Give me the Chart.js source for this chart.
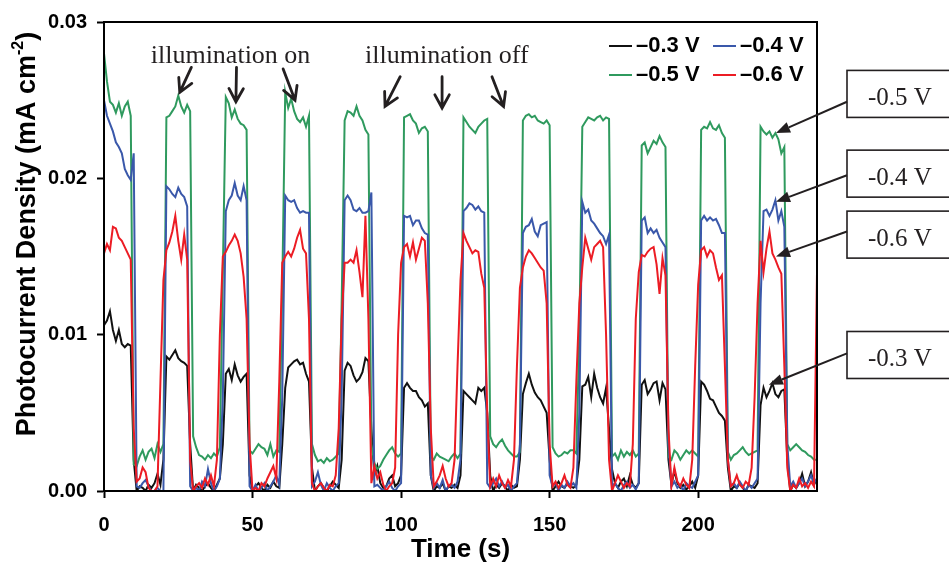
<!DOCTYPE html>
<html>
<head>
<meta charset="utf-8">
<script src="https://cdn.jsdelivr.net/npm/chart.js@4.4.1/dist/chart.umd.min.js"></script>
<style>
  html, body { margin: 0; padding: 0; background: #fff; }
  #wrap { width: 949px; height: 564px; position: relative; }
</style>
</head>
<body>
<div id="wrap"><canvas id="grafico"></canvas></div>
<script>
// tempo (s), uma amostra por segundo
const tempos = [
  0,1,2,3,4,5,6,7,8,9,10,11,12,13,14,15,16,17,18,19,
  20,21,22,23,24,25,26,27,28,29,30,31,32,33,34,35,36,37,38,39,
  40,41,42,43,44,45,46,47,48,49,50,51,52,53,54,55,56,57,58,59,
  60,61,62,63,64,65,66,67,68,69,70,71,72,73,74,75,76,77,78,79,
  80,81,82,83,84,85,86,87,88,89,90,91,92,93,94,95,96,97,98,99,
  100,101,102,103,104,105,106,107,108,109,110,111,112,113,114,115,116,117,118,119,
  120,121,122,123,124,125,126,127,128,129,130,131,132,133,134,135,136,137,138,139,
  140,141,142,143,144,145,146,147,148,149,150,151,152,153,154,155,156,157,158,159,
  160,161,162,163,164,165,166,167,168,169,170,171,172,173,174,175,176,177,178,179,
  180,181,182,183,184,185,186,187,188,189,190,191,192,193,194,195,196,197,198,199,
  200,201,202,203,204,205,206,207,208,209,210,211,212,213,214,215,216,217,218,219,
  220,221,222,223,224,225,226,227,228,229,230,231,232,233,234,235,236,237,238,239,
  240
];

// densidade de fotocorrente (mA cm-2)
const serie_03 = [
  0.0106,0.0109,0.0115,0.0103,0.0096,0.0103,0.0094,0.0092,0.0094,0.0093,
  0.002,0,0.0003,0.0002,0,0.0004,0.0002,0.0005,0.0011,0.0004,
  0.002,0.0086,0.0084,0.0087,0.009,0.0085,0.0083,0.0082,0.008,0.003,
  0,0.0004,0.0002,0,0.0003,0.0005,0.0002,0,0.0004,0.0008,
  0.003,0.0075,0.0078,0.0071,0.0081,0.0074,0.007,0.0073,0.0075,0.001,
  0,0.0003,0.0005,0.0002,0,0.0004,0.0002,0.0006,0.0003,0.0002,
  0.003,0.0066,0.0079,0.0081,0.0083,0.0084,0.0081,0.0082,0.0075,0.007,
  0.0015,0,0.0003,0.0005,0.0002,0,0.0003,0.0006,0.0004,0.0002,
  0.002,0.0077,0.0082,0.008,0.0074,0.007,0.0072,0.0076,0.0085,0.0083,
  0.004,0.001,0.0016,0.0005,0.0002,0.0003,0.0008,0.001,0.0003,0.0005,
  0.001,0.0066,0.0069,0.0066,0.0064,0.0064,0.006,0.0058,0.0054,0.0056,
  0.001,0,0.0003,0.0002,0.0005,0,0.0003,0.0002,0.0004,0.0002,
  0.001,0.0064,0.0062,0.006,0.0058,0.0056,0.0066,0.0064,0.0066,0.005,
  0.001,0,0.0004,0.0002,0.0005,0.0003,0,0.0004,0.0002,0.0003,
  0.002,0.0062,0.0069,0.0075,0.0068,0.0063,0.006,0.0058,0.0054,0.005,
  0.002,0,0.0003,0.0006,0.0003,0.0002,0.0005,0.0003,0.0002,0.0004,
  0.002,0.0067,0.0068,0.0073,0.006,0.0075,0.0066,0.006,0.0056,0.0066,
  0.004,0.0014,0.0005,0.0002,0.0006,0.0008,0.0003,0.001,0.0004,0.0002,
  0.0005,0.0068,0.0071,0.0062,0.0065,0.0069,0.007,0.0058,0.0069,0.0065,
  0.002,0.0004,0.0013,0.0005,0.0002,0.0004,0.0001,0.0003,0.0006,0.0002,
  0.001,0.007,0.0068,0.0064,0.0059,0.0058,0.0054,0.005,0.0048,0.0045,
  0.0015,0,0.0003,0.0002,0.0005,0.0002,0,0.0004,0.0003,0.0002,
  0.0005,0.0055,0.0066,0.006,0.0064,0.0069,0.0062,0.006,0.0064,0.0065,
  0.002,0,0.0004,0.0002,0.0005,0.0011,0.0003,0.0006,0.0012,0.0004,
  0.0008
];

const serie_04 = [
  0.025,0.024,0.0235,0.023,0.0223,0.022,0.0216,0.0206,0.0202,0.0199,
  0.0216,0.0003,0.0002,0.0005,0.0007,0.0003,0,0,0.0002,0,
  0,0.0195,0.0193,0.019,0.0188,0.0194,0.019,0.0188,0.0182,0.0003,
  0,0.0002,0,0.0006,0.0003,0.0014,0.0005,0,0.0003,0.0008,
  0.006,0.0179,0.0186,0.0189,0.0197,0.0189,0.0186,0.0195,0.0186,0.0003,
  0,0.0004,0,0.0002,0.0005,0,0.0003,0.0006,0.001,0.0004,
  0.006,0.0189,0.0186,0.0185,0.0186,0.0181,0.0178,0.0179,0.0178,0.0178,
  0.0003,0.0006,0.0012,0.0004,0,0.0005,0.0002,0,0.0003,0.0005,
  0.006,0.0186,0.0189,0.0186,0.018,0.0179,0.0181,0.0178,0.0178,0.0179,
  0.0191,0.0003,0.0004,0.0002,0,0.0003,0.0006,0.0002,0,0.0003,
  0.0005,0.0176,0.0175,0.0176,0.017,0.0173,0.0173,0.0168,0.0165,0.0164,
  0.001,0.0002,0.0005,0.0002,0.0007,0,0.0003,0.0004,0.0002,0.0006,
  0.002,0.0179,0.0181,0.0184,0.0183,0.018,0.0182,0.0179,0.0178,0.0005,
  0.0002,0.0005,0.0008,0.0003,0.0006,0.0002,0.0004,0,0.0003,0.0005,
  0.003,0.0165,0.0169,0.017,0.0174,0.0166,0.0163,0.017,0.0171,0.0172,
  0.001,0.0003,0.0005,0,0.0004,0.0002,0.0006,0.0003,0.0005,0.0002,
  0.005,0.0185,0.0178,0.018,0.0173,0.0171,0.0168,0.0165,0.0163,0.0158,
  0.0164,0.0003,0.0005,0.0002,0,0.0004,0.0006,0.0002,0.0004,0.0001,
  0.0005,0.0173,0.0175,0.0165,0.0168,0.0165,0.0167,0.0162,0.0159,0.0156,
  0.003,0.0003,0.0006,0.0002,0.0004,0,0.0005,0.0003,0.0002,0.0006,
  0.001,0.0173,0.0176,0.0173,0.0175,0.0173,0.0174,0.017,0.0165,0.0165,
  0.002,0.0003,0.0005,0.0002,0.0006,0.0003,0,0.0004,0.0002,0.0005,
  0.0008,0.012,0.0179,0.018,0.0176,0.018,0.0186,0.0173,0.0179,0.0169,
  0.003,0.0003,0.0006,0.0002,0.0005,0.0008,0.0003,0.0006,0.001,0.0005,
  0.0008
];

const serie_05 = [
  0.028,0.0262,0.0249,0.0247,0.0242,0.0248,0.024,0.0246,0.0249,0.024,
  0.0017,0.0016,0.0022,0.0026,0.002,0.0025,0.0027,0.0021,0.003,0.0025,
  0.003,0.0239,0.024,0.0243,0.0246,0.0253,0.0246,0.0242,0.0247,0.0243,
  0.0035,0.0028,0.0023,0.0022,0.002,0.0023,0.0021,0.0024,0.0022,0.0028,
  0.014,0.0252,0.0248,0.0239,0.0244,0.0238,0.0235,0.0234,0.0231,0.0026,
  0.0024,0.0027,0.003,0.0028,0.0027,0.0023,0.003,0.0022,0.0026,0.0025,
  0.013,0.0255,0.0245,0.0251,0.0243,0.0238,0.0236,0.0239,0.0233,0.024,
  0.003,0.0023,0.0019,0.002,0.0018,0.0021,0.0019,0.002,0.0022,0.0024,
  0.012,0.0237,0.0243,0.0242,0.024,0.0246,0.024,0.0237,0.0231,0.0228,
  0.003,0.0018,0.0014,0.0016,0.002,0.0023,0.0026,0.0028,0.0024,0.0022,
  0.0024,0.0239,0.024,0.0241,0.0237,0.0235,0.0229,0.0232,0.0233,0.023,
  0.0022,0.002,0.0024,0.0022,0.0021,0.002,0.0019,0.0022,0.0024,0.0021,
  0.0024,0.0239,0.0236,0.0233,0.0231,0.0229,0.0233,0.0235,0.0237,0.0238,
  0.0035,0.003,0.0028,0.0031,0.0033,0.0029,0.0026,0.0024,0.0022,0.0022,
  0.0025,0.0237,0.024,0.0241,0.0239,0.024,0.0237,0.0236,0.0235,0.0237,
  0.0234,0.0028,0.0024,0.0022,0.0023,0.0025,0.0024,0.0026,0.0026,0.0024,
  0.01,0.0233,0.0236,0.0239,0.0238,0.0237,0.0239,0.024,0.0237,0.0239,
  0.0238,0.0022,0.0024,0.002,0.0026,0.0022,0.0025,0.0023,0.0026,0.0022,
  0.0024,0.0221,0.0223,0.0216,0.022,0.0224,0.0222,0.0227,0.0223,0.022,
  0.0022,0.002,0.0026,0.0024,0.002,0.0023,0.0026,0.0024,0.0026,0.0024,
  0.0022,0.0231,0.0233,0.0232,0.0236,0.0232,0.0231,0.0234,0.0229,0.0226,
  0.0025,0.002,0.0023,0.0024,0.0026,0.0028,0.0025,0.0023,0.0024,0.0025,
  0.0026,0.0233,0.023,0.0228,0.023,0.0226,0.0229,0.0225,0.0216,0.022,
  0.003,0.0026,0.0028,0.003,0.0028,0.0026,0.0025,0.0023,0.0022,0.002,
  0.002
];

const serie_06 = [
  0.0152,0.0158,0.0154,0.0169,0.0168,0.0162,0.016,0.0156,0.0152,0.0148,
  0.004,0.0006,0.0008,0.0015,0.0012,0.0002,0,0,0.0003,0.007,
  0.0135,0.0154,0.0159,0.0166,0.0176,0.016,0.0148,0.0164,0.0148,0.002,
  0,0.0003,0.0005,0.0002,0.0008,0.0004,0.001,0.0003,0.002,0.01,
  0.015,0.0153,0.0157,0.016,0.0164,0.016,0.0152,0.0137,0.011,0.003,
  0,0.0002,0,0.0005,0.0003,0.0008,0.0012,0.0016,0.0008,0.007,
  0.0146,0.015,0.0153,0.015,0.0155,0.0162,0.0167,0.0155,0.0152,0.011,
  0.0005,0,0.0003,0.0005,0.0002,0,0.0004,0.0003,0.001,0.004,
  0.011,0.0146,0.0146,0.0148,0.0146,0.0154,0.014,0.0124,0.0176,0.011,
  0.0005,0.0016,0.0008,0.0012,0.0004,0,0.0003,0.0005,0.0015,0.01,
  0.0146,0.0156,0.0158,0.015,0.0159,0.0148,0.0155,0.0162,0.016,0.012,
  0.004,0.0003,0.0006,0.001,0.0016,0.0008,0.0003,0.0005,0.002,0.008,
  0.0135,0.0165,0.016,0.0156,0.0152,0.0154,0.0153,0.0139,0.013,0.005,
  0.0003,0.0008,0.0003,0.001,0.0005,0.0002,0.0007,0.0003,0.002,0.008,
  0.013,0.0143,0.015,0.0154,0.0152,0.0149,0.0146,0.0143,0.0141,0.012,
  0.003,0.0003,0.0006,0.0002,0.0005,0.001,0.0004,0.0002,0.0015,0.007,
  0.012,0.0143,0.0162,0.0155,0.0148,0.0156,0.0158,0.016,0.0156,0.01,
  0.002,0,0.0005,0.001,0.0006,0.0002,0.0005,0.0003,0.003,0.011,
  0.014,0.0151,0.015,0.0153,0.0155,0.0156,0.0145,0.0126,0.0149,0.0138,
  0.004,0.0003,0.0015,0.0006,0.0003,0.0008,0.0004,0.0002,0.002,0.008,
  0.0132,0.0154,0.0156,0.015,0.0154,0.0152,0.0143,0.0135,0.0138,0.008,
  0.002,0.0003,0.0005,0.001,0.0004,0.0002,0.0006,0.0004,0.0015,0.006,
  0.012,0.016,0.014,0.0155,0.0166,0.0152,0.0148,0.0143,0.0139,0.008,
  0.0015,0,0.0004,0.0002,0.0008,0.0003,0.0005,0.0002,0.0006,0.0003,
  0.014
];

const rotulos = ['\u20130.3 V', '\u20130.4 V', '\u20130.5 V', '\u20130.6 V'];
const cores = ['#111111', '#3a58aa', '#2f9a5e', '#ec1c24'];

const ticks_x = [0, 50, 100, 150, 200];
const ticks_y = [0, 0.01, 0.02, 0.03];

// caixas da direita: texto, centro da caixa, ponta da seta (tempo, valor)
const caixas_texto = ['-0.5 V', '-0.4 V', '-0.6 V', '-0.3 V'];
const caixas_centro = [0.0254, 0.0203, 0.0164, 0.0087];
const caixas_cauda = [0.0249, 0.0202, 0.0166, 0.0088];
const setas_t = [226.2, 226.2, 226.2, 223.8];
const setas_v = [0.0229, 0.0185, 0.0150, 0.0068];

// setas de "illumination on/off": [t cauda, v cauda, t ponta, v ponta]
const setas_on = [[29.4, 0.0271, 25.5, 0.0255], [44.6, 0.0271, 44.4, 0.0249], [60.3, 0.027, 64.3, 0.025]];
const setas_off = [[99.7, 0.0265, 94.6, 0.0246], [113.8, 0.0265, 113.8, 0.0245], [130.6, 0.0265, 134.5, 0.0246]];

const fonte_sans = '"Liberation Sans", Arial, sans-serif';
const fonte_serif = '"Liberation Serif", "Times New Roman", serif';

function serie(nome, valores, cor, ordem) {
  return {
    label: nome,
    data: tempos.map((t, i) => ({ x: t, y: valores[i] })),
    borderColor: cor,
    backgroundColor: cor,
    borderWidth: 2,
    pointRadius: 0,
    tension: 0,
    fill: false,
    order: ordem
  };
}

function seta_aberta(ctx, x1, y1, x2, y2) {
  const ang = Math.atan2(y2 - y1, x2 - x1);
  const tam = 15;
  ctx.beginPath();
  ctx.moveTo(x1, y1);
  ctx.lineTo(x2, y2);
  ctx.moveTo(x2 - tam * Math.cos(ang - 0.5), y2 - tam * Math.sin(ang - 0.5));
  ctx.lineTo(x2, y2);
  ctx.lineTo(x2 - tam * Math.cos(ang + 0.5), y2 - tam * Math.sin(ang + 0.5));
  ctx.stroke();
}

function seta_cheia(ctx, x1, y1, x2, y2) {
  const ang = Math.atan2(y2 - y1, x2 - x1);
  const tam = 14;
  const bx = x2 - tam * Math.cos(ang), by = y2 - tam * Math.sin(ang);
  ctx.beginPath();
  ctx.moveTo(x1, y1);
  ctx.lineTo(bx, by);
  ctx.stroke();
  ctx.beginPath();
  ctx.moveTo(x2, y2);
  ctx.lineTo(bx + 5.5 * Math.sin(ang), by - 5.5 * Math.cos(ang));
  ctx.lineTo(bx - 5.5 * Math.sin(ang), by + 5.5 * Math.cos(ang));
  ctx.closePath();
  ctx.fill();
}

const plugin_notas = {
  id: 'notas',
  afterDraw: (chart) => {
    const { ctx, chartArea } = chart;
    const sx = chart.scales.x, sy = chart.scales.y;
    ctx.save();

    // moldura
    ctx.strokeStyle = '#000';
    ctx.lineWidth = 2;
    ctx.strokeRect(chartArea.left, chartArea.top, chartArea.right - chartArea.left, chartArea.bottom - chartArea.top);

    // legenda
    ctx.font = 'bold 22px ' + fonte_sans;
    ctx.textAlign = 'left';
    ctx.textBaseline = 'middle';
    for (let i = 0; i < rotulos.length; i++) {
      const col = i % 2, lin = Math.floor(i / 2);
      const lx = chartArea.right - 208 + col * 104;
      const ly = chartArea.top + 24 + lin * 29;
      ctx.strokeStyle = cores[i];
      ctx.lineWidth = 2;
      ctx.beginPath();
      ctx.moveTo(lx, ly);
      ctx.lineTo(lx + 23, ly);
      ctx.stroke();
      ctx.fillStyle = '#000';
      ctx.fillText(rotulos[i], lx + 27, ly);
    }

    // illumination on / off
    ctx.fillStyle = '#231f20';
    ctx.strokeStyle = '#231f20';
    ctx.font = '26px ' + fonte_serif;
    ctx.textAlign = 'center';
    ctx.textBaseline = 'alphabetic';
    ctx.fillText('illumination on', sx.getPixelForValue(42.6), sy.getPixelForValue(0.0274));
    ctx.fillText('illumination off', sx.getPixelForValue(115.4), sy.getPixelForValue(0.0274));
    ctx.lineWidth = 2.8;
    ctx.lineCap = 'round';
    setas_on.concat(setas_off).forEach(s => {
      seta_aberta(ctx, sx.getPixelForValue(s[0]), sy.getPixelForValue(s[1]), sx.getPixelForValue(s[2]), sy.getPixelForValue(s[3]));
    });
    ctx.lineCap = 'butt';

    // caixas da direita
    const bx = chartArea.right + 30;
    for (let i = 0; i < caixas_texto.length; i++) {
      const cy = sy.getPixelForValue(caixas_centro[i]);
      ctx.fillStyle = '#fff';
      ctx.fillRect(bx, cy - 23.5, 130, 47);
      ctx.strokeStyle = '#231f20';
      ctx.lineWidth = 1.6;
      ctx.strokeRect(bx, cy - 23.5, 130, 47);
      ctx.fillStyle = '#231f20';
      ctx.font = '25px ' + fonte_serif;
      ctx.textAlign = 'left';
      ctx.fillText(caixas_texto[i], bx + 21, cy + 11);
      ctx.lineWidth = 2;
      seta_cheia(ctx, bx, sy.getPixelForValue(caixas_cauda[i]), sx.getPixelForValue(setas_t[i]), sy.getPixelForValue(setas_v[i]));
    }

    // titulos dos eixos
    ctx.fillStyle = '#000';
    ctx.font = 'bold 26px ' + fonte_sans;
    ctx.textAlign = 'center';
    ctx.textBaseline = 'middle';
    ctx.fillText('Time (s)', (chartArea.left + chartArea.right) / 2, 550);

    ctx.translate(28, 234);
    ctx.rotate(-Math.PI / 2);
    const f_main = 'bold 27px ' + fonte_sans;
    const f_sup = 'bold 16px ' + fonte_sans;
    const p1 = 'Photocurrent Density (mA cm', p2 = '-2', p3 = ')';
    ctx.font = f_main; const w1 = ctx.measureText(p1).width, w3 = ctx.measureText(p3).width;
    ctx.font = f_sup; const w2 = ctx.measureText(p2).width;
    let px = -(w1 + w2 + w3) / 2;
    ctx.textAlign = 'left';
    ctx.font = f_main; ctx.fillText(p1, px, 0); px += w1;
    ctx.font = f_sup; ctx.fillText(p2, px, -9); px += w2;
    ctx.font = f_main; ctx.fillText(p3, px, 0);

    ctx.restore();
  }
};

Chart.defaults.color = '#000';

const grafico = new Chart(document.getElementById('grafico'), {
  type: 'line',
  data: {
    datasets: [
      serie(rotulos[0], serie_03, cores[0], 4),
      serie(rotulos[1], serie_04, cores[1], 2),
      serie(rotulos[2], serie_05, cores[2], 3),
      serie(rotulos[3], serie_06, cores[3], 1)
    ]
  },
  options: {
    responsive: true,
    maintainAspectRatio: false,
    animation: false,
    layout: { padding: { top: 22, right: 132, bottom: 0, left: 0 } },
    plugins: {
      legend: { display: false },
      tooltip: { enabled: false }
    },
    scales: {
      x: {
        type: 'linear',
        min: 0,
        max: 240,
        afterFit: (scale) => { scale.height = 73; },
        afterBuildTicks: (scale) => { scale.ticks = ticks_x.map(v => ({ value: v })); },
        ticks: {
          font: { family: fonte_sans, size: 20, weight: 'bold' },
          padding: 15,
          maxRotation: 0,
          autoSkip: false
        },
        grid: { drawOnChartArea: false, drawTicks: true, tickLength: 7, tickColor: '#000', tickWidth: 2 },
        border: { color: '#000', width: 2 }
      },
      y: {
        type: 'linear',
        min: 0,
        max: 0.03,
        afterFit: (scale) => { scale.width = 104; },
        afterBuildTicks: (scale) => { scale.ticks = ticks_y.map(v => ({ value: v })); },
        ticks: {
          font: { family: fonte_sans, size: 20, weight: 'bold' },
          padding: 10,
          callback: (v) => Number(v).toFixed(2)
        },
        grid: { drawOnChartArea: false, drawTicks: true, tickLength: 7, tickColor: '#000', tickWidth: 2 },
        border: { color: '#000', width: 2 }
      }
    }
  },
  plugins: [plugin_notas]
});
</script>
</body>
</html>
